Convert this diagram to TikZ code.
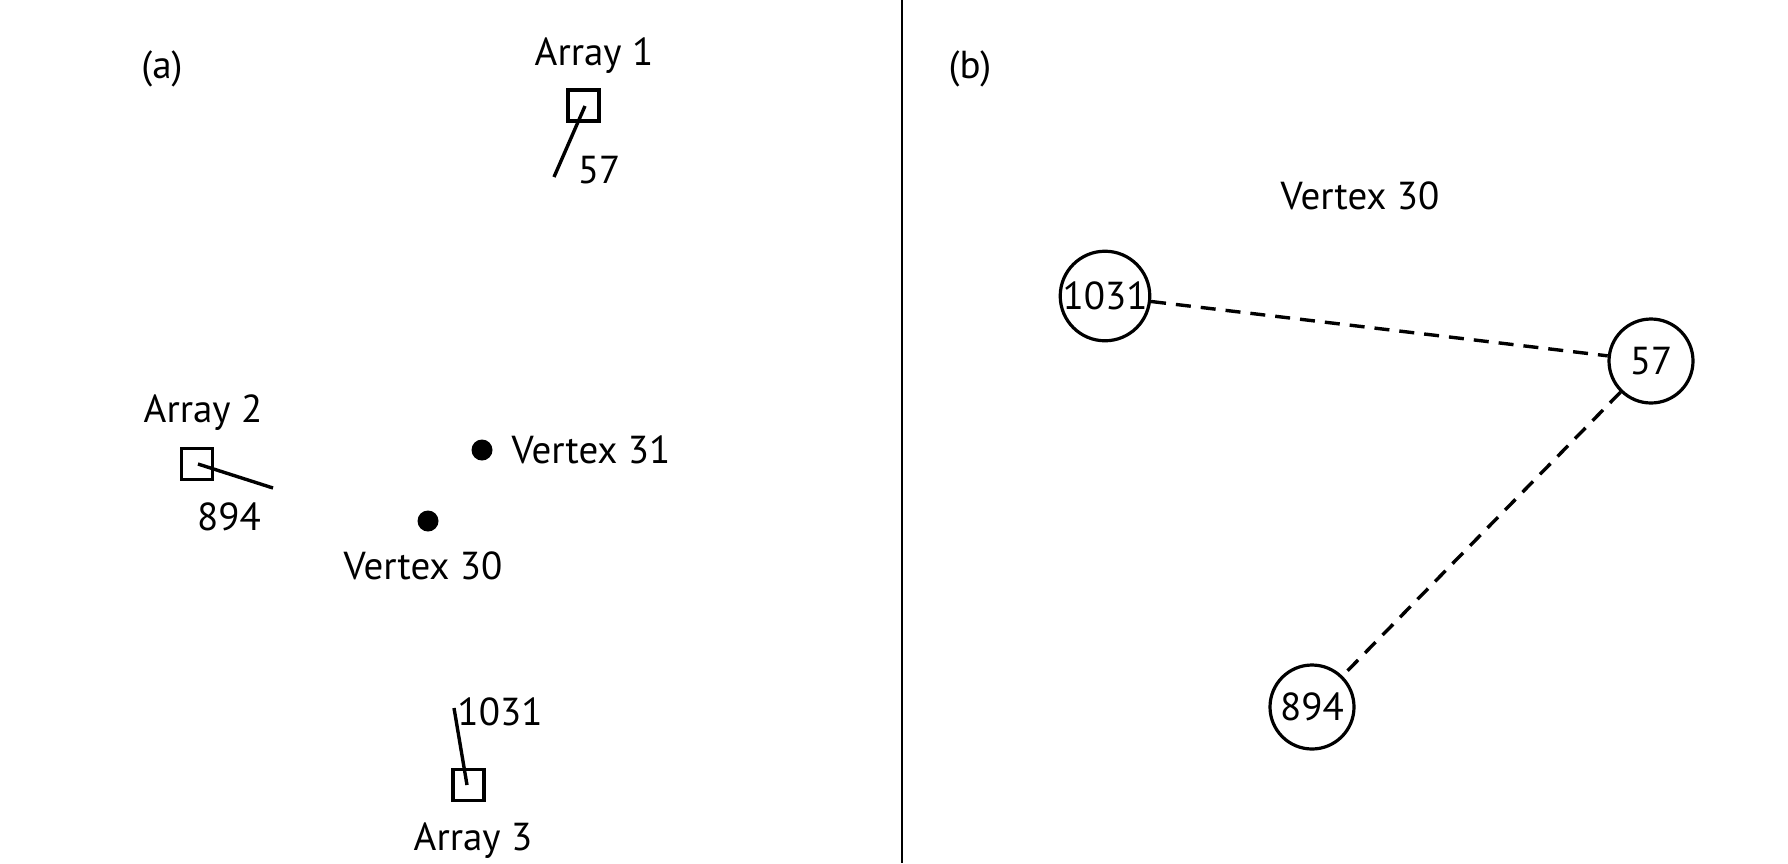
\documentclass[tikz,border=0pt]{standalone}
\usepackage{fontspec}
\setmainfont{PT Sans}
\begin{document}
\begin{tikzpicture}[x=1pt,y=-1pt,
  lbl/.style={anchor=base,inner sep=0pt,font=\fontsize{39}{42}\selectfont},
  arr/.style={draw,line width=3.2pt,minimum size=31pt,inner sep=0pt},
  stick/.style={line width=3.4pt},
  vdot/.style={circle,fill,minimum size=21pt,inner sep=0pt},
  vnode/.style={circle,draw,line width=3.2pt,minimum size=84pt,inner sep=0pt,font=\fontsize{39}{42}\selectfont},
  edge/.style={line width=3.4pt,dash pattern=on 15pt off 10pt}]
\useasboundingbox (0,0) rectangle (1788,863);
% divider
\coordinate (dtop) at (902,0);
\coordinate (dbot) at (902,863);
\draw[line width=2pt] (dtop) -- (dbot);
% panel labels
\node[lbl] (la) at (162,78) {(a)};
\node[lbl] (lb) at (970,78) {(b)};
% Array 1
\node[lbl] (a1t) at (594,65) {Array 1};
\node[arr] (a1) at (583.5,105.5) {};
\coordinate (a1c) at (585,106);
\coordinate (a1e) at (554,177);
\draw[stick] (a1c) -- (a1e);
\node[lbl] (n57a) at (599,183) {57};
% Array 2
\node[lbl] (a2t) at (203,422) {Array 2};
\node[arr] (a2) at (197,464) {};
\coordinate (a2c) at (198,464);
\coordinate (a2e) at (273,488);
\draw[stick] (a2c) -- (a2e);
\node[lbl] (n894a) at (229,530) {894};
% Array 3
\node[lbl] (n1031a) at (500,725) {1031};
\node[arr] (a3) at (468.5,785) {};
\coordinate (a3c) at (467,785);
\coordinate (a3e) at (454,708);
\draw[stick] (a3c) -- (a3e);
\node[lbl] (a3t) at (473,850) {Array 3};
% vertices
\node[vdot] (v31) at (482,450) {};
\node[lbl] (v31t) at (591,463) {Vertex 31};
\node[vdot] (v30) at (428,521) {};
\node[lbl] (v30t) at (423,579) {Vertex 30};
% panel (b)
\node[lbl] (v30b) at (1360,209) {Vertex 30};
\node[vnode] (b1031) at (1105,296) {1031};
\node[vnode] (b57) at (1651,361) {57};
\node[vnode] (b894) at (1312,707) {894};
\draw[edge] (b1031) -- (b57);
\draw[edge] (b57) -- (b894);
\end{tikzpicture}
\end{document}
